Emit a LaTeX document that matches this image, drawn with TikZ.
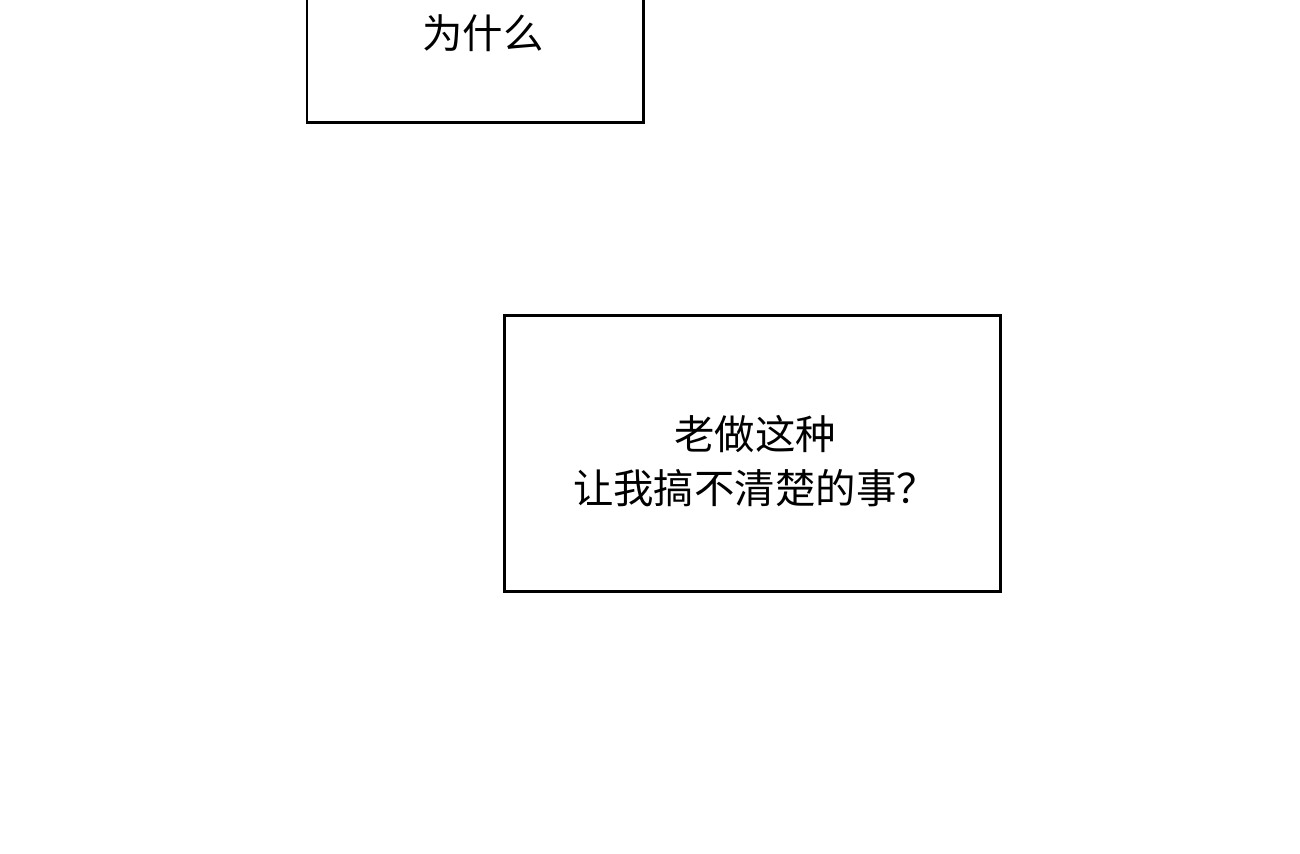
\documentclass[tikz,border=0pt]{standalone}
\usepackage{fontspec}
\newfontfamily\cjk{Noto Sans CJK SC}
\tikzset{panel/.style = {draw, line width = 1.7pt},
  talk/.style = {font = \cjk\fontsize{23}{31}\selectfont, align = center, inner sep = 0}}

\begin{document}
\begin{tikzpicture}[x=0.02cm, y=-0.02cm]
      \useasboundingbox (0, 0) rectangle (1300, 853);

      \draw [panel] (307, -20) rectangle (643, 122);
      \node [talk] (why) at (483, 33) {为什么};

      \draw [panel] (504, 315) rectangle (1000, 591);
      \node [talk] (thing) at (755, 461) {老做这种\\让我搞不清楚的事？};
    \end{tikzpicture}
\end{document}
